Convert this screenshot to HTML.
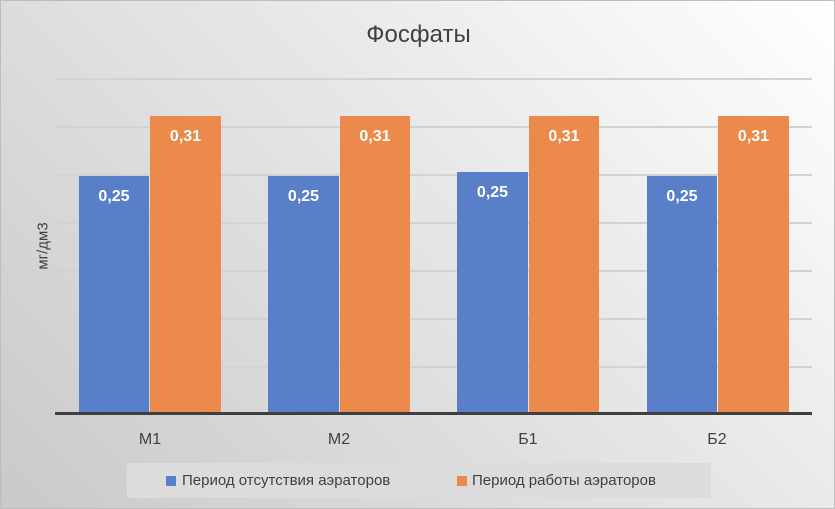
<!DOCTYPE html>
<html><head><meta charset="utf-8"><style>
body{margin:0;width:835px;height:509px;overflow:hidden}
.c{position:absolute;left:0;top:0;width:833px;height:507px;border:1px solid #bdbdbd;
background:linear-gradient(225deg,#ffffff 0%,#e6e6e6 45%,#c9c9c9 100%);font-family:"Liberation Sans","DejaVu Sans",sans-serif}
.g{position:absolute;left:54px;width:757px;height:2px;background:#d2d2d2}
.b{position:absolute;color:#fff;font-weight:bold;font-size:16px;text-align:center;box-sizing:border-box}
.bl{background:#5a7fc9}.or{background:#eb8a4a}
.x{position:absolute;top:430px;font-size:16px;color:#404040;width:60px;text-align:center}
</style></head><body><div class="c">
<div style="position:absolute;top:20px;left:0;width:835px;text-align:center;font-size:24px;color:#404040">Фосфаты</div>
<div style="position:absolute;left:42px;top:245px;transform:translate(-50%,-50%) rotate(-90deg);font-size:15px;color:#404040;white-space:nowrap">мг/дм3</div>
<div class="g" style="top:77px"></div><div class="g" style="top:125px"></div><div class="g" style="top:173px"></div><div class="g" style="top:221px"></div><div class="g" style="top:269px"></div><div class="g" style="top:317px"></div><div class="g" style="top:365px"></div>
<div class="b bl" style="left:78px;width:70px;top:175px;height:238px;padding-top:12px">0,25</div>
<div class="b or" style="left:149px;width:71px;top:115px;height:298px;padding-top:12px">0,31</div>
<div class="b bl" style="left:267px;width:71px;top:175px;height:238px;padding-top:12px">0,25</div>
<div class="b or" style="left:339px;width:70px;top:115px;height:298px;padding-top:12px">0,31</div>
<div class="b bl" style="left:456px;width:71px;top:171px;height:242px;padding-top:12px">0,25</div>
<div class="b or" style="left:528px;width:70px;top:115px;height:298px;padding-top:12px">0,31</div>
<div class="b bl" style="left:646px;width:70px;top:175px;height:238px;padding-top:12px">0,25</div>
<div class="b or" style="left:717px;width:71px;top:115px;height:298px;padding-top:12px">0,31</div>
<div style="position:absolute;left:54px;top:411px;width:757px;height:3px;background:#3f3f3f"></div>
<div class="x" style="left:119px">М1</div><div class="x" style="left:308px">М2</div><div class="x" style="left:497px">Б1</div><div class="x" style="left:686px">Б2</div>
<div style="position:absolute;left:126px;top:462px;width:584px;height:35px;background:#dcdcdc;font-size:15px;color:#404040;line-height:35px">
<span style="position:absolute;left:39px;top:13px;width:10px;height:10px;background:#5a7fc9"></span>
<span style="position:absolute;left:55px">Период отсутствия аэраторов</span>
<span style="position:absolute;left:330px;top:13px;width:10px;height:10px;background:#eb8a4a"></span>
<span style="position:absolute;left:345px">Период работы аэраторов</span>
</div>
</div></body></html>
